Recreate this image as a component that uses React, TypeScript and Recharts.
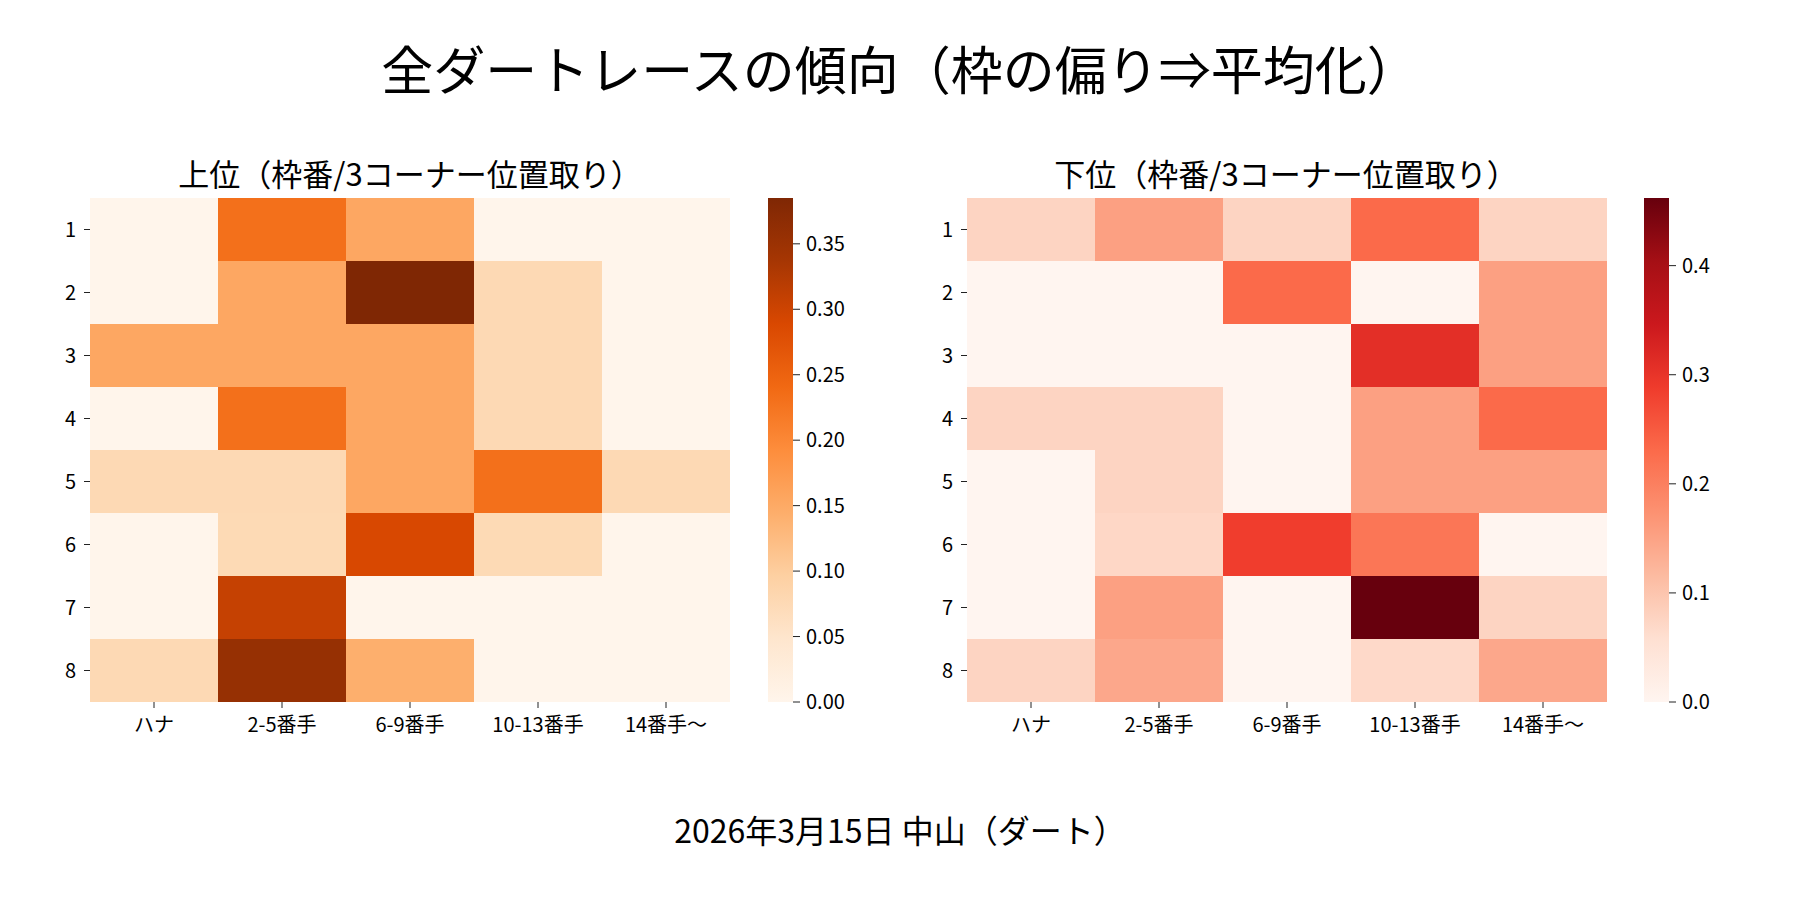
import React from 'react';
import { BarChart, Bar, Cell, XAxis, YAxis } from 'recharts';

const rows = ['1', '2', '3', '4', '5', '6', '7', '8'];
const positions = ['ハナ', '2-5番手', '6-9番手', '10-13番手', '14番手〜'];

// 上位 (rows = 枠番 1..8, columns = 3コーナー位置取り)
const upper = [
  [0, 0.231, 0.154, 0, 0],
  [0, 0.154, 0.385, 0.077, 0],
  [0.154, 0.154, 0.154, 0.077, 0],
  [0, 0.231, 0.154, 0.077, 0],
  [0.077, 0.077, 0.154, 0.231, 0.077],
  [0, 0.075, 0.29, 0.075, 0],
  [0, 0.308, 0, 0, 0],
  [0.077, 0.357, 0.143, 0, 0],
];

// 下位
const lower = [
  [0.077, 0.154, 0.077, 0.231, 0.077],
  [0, 0, 0.231, 0, 0.154],
  [0, 0, 0, 0.308, 0.154],
  [0.077, 0.077, 0, 0.154, 0.231],
  [0, 0.077, 0, 0.154, 0.154],
  [0, 0.072, 0.286, 0.214, 0],
  [0, 0.154, 0, 0.462, 0.077],
  [0.077, 0.143, 0, 0.068, 0.143],
];

const upperTicks = [0, 0.05, 0.1, 0.15, 0.2, 0.25, 0.3, 0.35];
const lowerTicks = [0, 0.1, 0.2, 0.3, 0.4];

const ORANGES = ['#fff5eb', '#fee6ce', '#fdd0a2', '#fdae6b', '#fd8d3c', '#f16913', '#d94801', '#a63603', '#7f2704'];
const REDS = ['#fff5f0', '#fee0d2', '#fcbba1', '#fc9272', '#fb6a4a', '#ef3b2c', '#cb181d', '#a50f15', '#67000d'];

const FONT = '"Noto Sans CJK JP", "Noto Sans", sans-serif';

function hex(c: string) {
  return [1, 3, 5].map((i) => parseInt(c.slice(i, i + 2), 16));
}

function cmap(stops: string[], t: number) {
  const x = Math.max(0, Math.min(1, t)) * (stops.length - 1);
  const i = Math.min(Math.floor(x), stops.length - 2);
  const f = x - i;
  const a = hex(stops[i]);
  const b = hex(stops[i + 1]);
  const m = a.map((v, k) => Math.round(v + (b[k] - v) * f));
  return `rgb(${m[0]},${m[1]},${m[2]})`;
}

const tickStyle = { fill: '#000', fontSize: 20, fontFamily: FONT };

function Heatmap({ values, stops, left }: { values: number[][]; stops: string[]; left: number }) {
  const vmax = Math.max(...values.flat());
  const data = positions.map((p) => {
    const d: Record<string, string | number> = { pos: p };
    rows.forEach((r) => (d['r' + r] = 1));
    return d;
  });
  return (
    <div style={{ position: 'absolute', left, top: 0 }}>
      <BarChart width={740} height={760} data={data} barCategoryGap={0} barGap={0}
        margin={{ top: 198, right: 10, bottom: 0, left: 0 }}>
        <XAxis dataKey="pos" axisLine={false} tickSize={6} tickMargin={10}
          tickLine={{ stroke: '#222' }} tick={tickStyle} height={58} interval={0} />
        <YAxis type="number" domain={[0, rows.length]} reversed width={90}
          ticks={rows.map((_, i) => i + 0.5)} tickFormatter={(v) => rows[Math.floor(v)]}
          axisLine={false} tickSize={6} tickMargin={8} tickLine={{ stroke: '#222' }} tick={tickStyle} />
        {rows.map((r, i) => (
          <Bar key={r} dataKey={'r' + r} stackId="a" isAnimationActive={false}>
            {positions.map((_, j) => (
              <Cell key={j} fill={cmap(stops, values[i][j] / vmax)} />
            ))}
          </Bar>
        ))}
      </BarChart>
    </div>
  );
}

function Colorbar({ values, stops, ticks, digits, left, id }: {
  values: number[][]; stops: string[]; ticks: number[]; digits: number; left: number; id: string;
}) {
  const vmax = Math.max(...values.flat());
  return (
    <div style={{ position: 'absolute', left, top: 0 }}>
      <BarChart width={120} height={760} data={[{ k: 'c', v: vmax }]} barCategoryGap={0}
        margin={{ top: 198, right: 35, bottom: 58, left: 0 }}>
        <defs>
          <linearGradient id={id} x1="0" y1="1" x2="0" y2="0">
            {stops.map((c, i) => (
              <stop key={i} offset={i / (stops.length - 1)} stopColor={c} />
            ))}
          </linearGradient>
        </defs>
        <XAxis dataKey="k" hide />
        <YAxis orientation="right" type="number" domain={[0, vmax]} allowDataOverflow ticks={ticks}
          tickFormatter={(v) => v.toFixed(digits)} axisLine={false} tickSize={7} tickMargin={6}
          tickLine={{ stroke: '#222' }} tick={tickStyle} width={60} />
        <Bar dataKey="v" fill={`url(#${id})`} isAnimationActive={false} />
      </BarChart>
    </div>
  );
}

export default function App() {
  const text = (s: string, x: number, y: number, size: number) => (
    <div style={{
      position: 'absolute', left: x - 700, top: y - size * 0.75, width: 1400, textAlign: 'center',
      fontSize: size, lineHeight: `${size * 1.5}px`, fontFamily: FONT, color: '#000', whiteSpace: 'nowrap',
    }}>{s}</div>
  );
  return (
    <div style={{ position: 'absolute', left: 0, top: 0, width: 1800, height: 900, background: '#fff', overflow: 'hidden' }}>
      {text('全ダートレースの傾向（枠の偏り⇒平均化）', 900, 68, 52)}
      {text('上位（枠番/3コーナー位置取り）', 410, 173, 31)}
      {text('下位（枠番/3コーナー位置取り）', 1286, 173, 31)}
      {text('2026年3月15日 中山（ダート）', 900, 829, 32)}
      <Heatmap values={upper} stops={ORANGES} left={0} />
      <Colorbar values={upper} stops={ORANGES} ticks={upperTicks} digits={2} left={768} id="gOr" />
      <Heatmap values={lower} stops={REDS} left={877} />
      <Colorbar values={lower} stops={REDS} ticks={lowerTicks} digits={1} left={1644} id="gRd" />
    </div>
  );
}
